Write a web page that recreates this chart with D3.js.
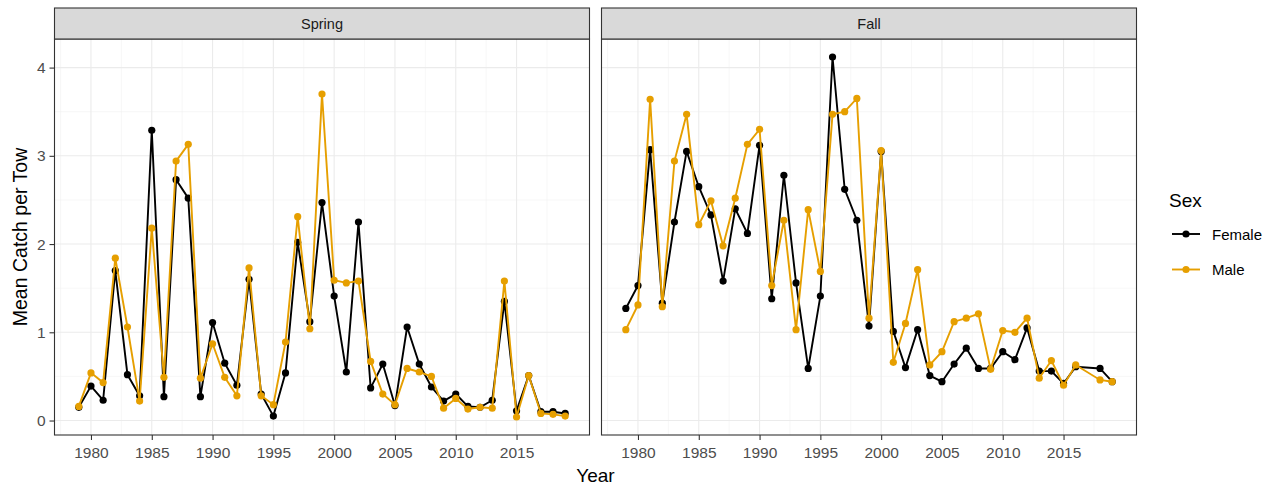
<!DOCTYPE html>
<html><head><meta charset="utf-8">
<script src="https://cdn.jsdelivr.net/npm/d3@7"></script>
<style>body{margin:0;background:#fff}text{font-family:"Liberation Sans",Arial,sans-serif}</style>
</head><body>
<svg id="c" width="1275" height="486"></svg>
<script>
const springYears = d3.range(1979, 2020);
const springFemale = [0.15,0.39,0.23,1.70,0.52,0.28,3.29,0.27,2.73,2.52,0.27,1.11,0.65,0.40,1.60,0.30,0.05,0.54,2.02,1.12,2.47,1.41,0.55,2.25,0.37,0.64,0.17,1.06,0.64,0.38,0.22,0.30,0.16,0.15,0.23,1.35,0.11,0.51,0.10,0.10,0.08];
const springMale =   [0.16,0.54,0.43,1.84,1.06,0.22,2.18,0.49,2.94,3.13,0.48,0.87,0.49,0.28,1.73,0.28,0.18,0.89,2.31,1.04,3.70,1.59,1.56,1.58,0.67,0.30,0.18,0.59,0.55,0.50,0.14,0.25,0.13,0.15,0.14,1.58,0.04,0.51,0.08,0.07,0.05];
const fallYears = [1979,1980,1981,1982,1983,1984,1985,1986,1987,1988,1989,1990,1991,1992,1993,1994,1995,1996,1997,1998,1999,2000,2001,2002,2003,2004,2005,2006,2007,2008,2009,2010,2011,2012,2013,2014,2015,2016,2018,2019];
const fallFemale = [1.27,1.53,3.07,1.33,2.25,3.05,2.65,2.33,1.58,2.40,2.12,3.12,1.38,2.78,1.56,0.59,1.41,4.12,2.62,2.27,1.07,3.05,1.01,0.60,1.03,0.51,0.44,0.64,0.82,0.59,0.59,0.78,0.69,1.05,0.56,0.56,0.42,0.61,0.59,0.44];
const fallMale =   [1.03,1.31,3.64,1.29,2.94,3.47,2.22,2.49,1.98,2.52,3.13,3.30,1.53,2.27,1.03,2.39,1.69,3.47,3.50,3.65,1.16,3.06,0.66,1.10,1.71,0.63,0.78,1.12,1.16,1.21,0.58,1.02,1.00,1.16,0.48,0.68,0.40,0.63,0.46,0.44];
const panels = ["Spring","Fall"];
const sexes = ["Female","Male"];
const colors = ["#000000","#E69F00"];
const xTicks = [1980,1985,1990,1995,2000,2005,2010,2015];
const yTicks = [0,1,2,3,4];

const svg = d3.select("#c");
const panelW = 535, pTop = 39, pBottom = 435, stripTop = 8;
const lefts = [54.5, 601.5];
const data = {
  Spring: {years: springYears, vals: [springFemale, springMale]},
  Fall: {years: fallYears, vals: [fallFemale, fallMale]}
};
const allVals = springFemale.concat(springMale, fallFemale, fallMale);
const ymin = d3.min(allVals), ymax = d3.max(allVals), yr = ymax - ymin;
const y = d3.scaleLinear().domain([ymin - 0.05*yr, ymax + 0.05*yr]).range([pBottom, pTop]);
const xr = 2019 - 1979;

panels.forEach((p, i) => {
  const L = lefts[i];
  const x = d3.scaleLinear().domain([1979 - 0.05*xr, 2019 + 0.05*xr]).range([L, L + panelW]);
  const g = svg.append("g");
  const xMinor = d3.range(1977.5, 2021, 5);
  const yMinor = [0.5,1.5,2.5,3.5];
  g.selectAll(".xm").data(xMinor).join("line").attr("x1", d=>x(d)).attr("x2", d=>x(d)).attr("y1", pTop).attr("y2", pBottom).attr("stroke","#F2F2F2").attr("stroke-width",0.6);
  g.selectAll(".ym").data(yMinor).join("line").attr("y1", d=>y(d)).attr("y2", d=>y(d)).attr("x1", L).attr("x2", L+panelW).attr("stroke","#F2F2F2").attr("stroke-width",0.6);
  g.selectAll(".xg").data(xTicks).join("line").attr("x1", d=>x(d)).attr("x2", d=>x(d)).attr("y1", pTop).attr("y2", pBottom).attr("stroke","#EBEBEB").attr("stroke-width",1.1);
  g.selectAll(".yg").data(yTicks).join("line").attr("y1", d=>y(d)).attr("y2", d=>y(d)).attr("x1", L).attr("x2", L+panelW).attr("stroke","#EBEBEB").attr("stroke-width",1.1);
  const d = data[p];
  [0,1].forEach(s => {
    const pts = d.years.map((yy, k) => [yy, d.vals[s][k]]);
    g.append("path").datum(pts).attr("fill","none").attr("stroke", colors[s]).attr("stroke-width",1.9)
      .attr("d", d3.line().x(v=>x(v[0])).y(v=>y(v[1])));
    g.selectAll(null).data(pts).join("circle").attr("cx", v=>x(v[0])).attr("cy", v=>y(v[1])).attr("r",3.6).attr("fill", colors[s]);
  });
  g.append("rect").attr("x", L).attr("y", pTop).attr("width", panelW).attr("height", pBottom-pTop).attr("fill","none").attr("stroke","#333333").attr("stroke-width",1.1);
  g.append("rect").attr("x", L).attr("y", stripTop).attr("width", panelW).attr("height", pTop-stripTop).attr("fill","#D9D9D9").attr("stroke","#333333").attr("stroke-width",1.1);
  g.append("text").attr("x", L + panelW/2).attr("y", 29).attr("text-anchor","middle").attr("font-size",14.5).attr("fill","#1A1A1A").text(p);
  const xa = g.append("g").attr("transform",`translate(0,${pBottom})`).call(d3.axisBottom(x).tickValues(xTicks).tickFormat(d3.format("d")).tickSize(5).tickPadding(6.5));
  xa.select(".domain").remove();
  xa.selectAll("line").attr("stroke","#333333").attr("stroke-width",1.1);
  xa.selectAll("text").attr("font-size",15.5).attr("fill","#4D4D4D").attr("font-family","Liberation Sans, Arial, sans-serif");
  if (i === 0) {
    const ya = g.append("g").attr("transform",`translate(${L},0)`).call(d3.axisLeft(y).tickValues(yTicks).tickFormat(d3.format("d")).tickSize(5).tickPadding(4));
    ya.select(".domain").remove();
    ya.selectAll("line").attr("stroke","#333333").attr("stroke-width",1.1);
    ya.selectAll("text").attr("font-size",15.5).attr("fill","#4D4D4D").attr("font-family","Liberation Sans, Arial, sans-serif");
  }
});

svg.append("text").attr("x", (lefts[0] + lefts[1] + panelW)/2).attr("y", 481.5).attr("text-anchor","middle").attr("font-size",19).attr("fill","#000").text("Year");
svg.append("text").attr("transform",`translate(27,${(pTop+pBottom)/2}) rotate(-90)`).attr("text-anchor","middle").attr("font-size",19.5).attr("fill","#000").text("Mean Catch per Tow");

const lg = svg.append("g");
lg.append("text").attr("x",1169).attr("y",206.5).attr("font-size",19).attr("fill","#000").text("Sex");
sexes.forEach((s, k) => {
  const yy = 234 + k*35.5;
  lg.append("line").attr("x1",1172).attr("x2",1200).attr("y1",yy).attr("y2",yy).attr("stroke",colors[k]).attr("stroke-width",1.9);
  lg.append("circle").attr("cx",1186).attr("cy",yy).attr("r",3.6).attr("fill",colors[k]);
  lg.append("text").attr("x",1212).attr("y",yy+5.5).attr("font-size",15).attr("fill","#000").text(s);
});
</script>
</body></html>
